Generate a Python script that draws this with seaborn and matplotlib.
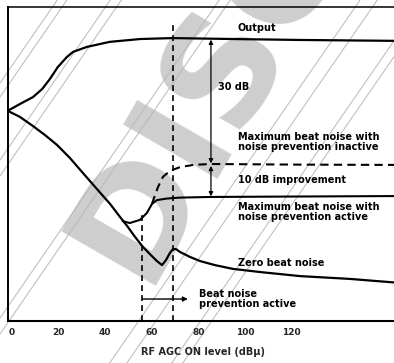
import matplotlib
matplotlib.use("Agg")
import matplotlib.pyplot as plt
from matplotlib.lines import Line2D
import pandas as pd
import seaborn as sns

sns.set_theme(style="white")
plt.rcParams["font.family"] = ["DejaVu Sans"]

# RF AGC ON level (dBu) vs. relative level (arbitrary units, schematic)
output_x = [-1.7, 3.4, 9.0, 13.0, 16.3, 19.7, 23.6, 26.2, 32.2, 42.0, 55.0, 69.0, 95.0, 124.0, 167.0]
output_y = [67.0, 69.1, 71.3, 73.9, 77.1, 80.9, 84.1, 85.7, 87.3, 88.9, 89.8, 90.1, 89.8, 89.5, 89.2]

zero_x = [-1.7, 3.4, 9.0, 14.2, 19.3, 24.9, 30.5, 36.5, 42.1, 46.4, 49.4, 52.8, 56.2, 59.2,
          62.2, 64.4, 66.1, 67.8, 69.1, 70.4, 72.1, 76.4, 80.7, 87.1, 94.8, 106.4, 123.6, 145.1, 167.0]
zero_y = [66.9, 65.0, 62.1, 59.2, 56.1, 51.9, 47.1, 42.0, 37.3, 33.1, 30.3, 26.8, 23.6, 21.3,
          19.1, 17.8, 19.4, 21.7, 22.9, 22.9, 22.0, 20.4, 19.1, 17.8, 16.6, 15.6, 14.3, 13.4, 12.1]

active_x = [47.5, 50.6, 54.9, 57.9, 60.1, 62.2, 66.5, 72.1, 85.0, 110.0, 167.0]
active_y = [31.8, 31.2, 32.2, 34.4, 37.3, 38.5, 39.0, 39.3, 39.5, 39.6, 39.8]

inactive_x = [60.1, 61.4, 62.7, 64.8, 67.8, 72.1, 77.7, 85.0, 123.6, 167.0]
inactive_y = [37.3, 40.1, 42.7, 45.9, 47.8, 49.0, 49.7, 50.0, 49.8, 49.7]

prevention_start = 56
prevention_end = 69
arrow_x = 85.4
x_ticks = [0, 20, 40, 60, 80, 100, 120]

W, H = 394, 363
fig = plt.figure(figsize=(W / 100, H / 100), dpi=100)
fig.patch.set_facecolor("white")

# faint diagonal "DISCONTINUED" stamp behind the chart
wm_grey = "#cecece"
fig.text(143 / W, 1 - 286 / H, "DISCO", fontsize=108, fontweight="bold",
         color=wm_grey, rotation=60, rotation_mode="anchor", ha="left", va="baseline",
         zorder=-2)
for c in [83, 97, 160, 176, 318, 334, 522, 547, 612, 628]:
    x0, y0 = 0, c
    x1, y1 = W, c - 1.45 * W
    fig.add_artist(Line2D([x0 / W, x1 / W], [1 - y0 / H, 1 - y1 / H],
                          transform=fig.transFigure, color="#b8b8b8", lw=0.7, zorder=-1))

ax = fig.add_axes([8 / W, 42 / H, 1.0, 314 / H])
ax.patch.set_alpha(0)
ax.set_xlim(-1.7, 167.4)
ax.set_ylim(0, 100)

line_kw = dict(color="black", estimator=None, sort=False, legend=False, ax=ax)
sns.lineplot(data=pd.DataFrame({"x": output_x, "y": output_y}), x="x", y="y", lw=1.6, **line_kw)
sns.lineplot(data=pd.DataFrame({"x": zero_x, "y": zero_y}), x="x", y="y", lw=1.6, **line_kw)
sns.lineplot(data=pd.DataFrame({"x": active_x, "y": active_y}), x="x", y="y", lw=1.5, **line_kw)
sns.lineplot(data=pd.DataFrame({"x": inactive_x, "y": inactive_y}), x="x", y="y", lw=1.5,
             linestyle=(0, (4, 2.5)), **line_kw)

# boundaries of the prevention-active range
ax.plot([prevention_start, prevention_start], [0, 34.4], color="black", lw=1.2,
        linestyle=(0, (3.5, 2.5)))
ax.plot([prevention_end, prevention_end], [0, 95.2], color="black", lw=1.2,
        linestyle=(0, (3.5, 2.5)))

arrow_kw = dict(arrowstyle="<|-|>", color="black", lw=0.9, mutation_scale=6,
                shrinkA=0, shrinkB=0)
ax.annotate("", xy=(arrow_x, 89.6), xytext=(arrow_x, 50.2), arrowprops=arrow_kw)
ax.annotate("", xy=(arrow_x, 49.4), xytext=(arrow_x, 39.7), arrowprops=arrow_kw)
ax.annotate("", xy=(75.5, 7.0), xytext=(prevention_start, 7.0),
            arrowprops=dict(arrowstyle="-|>", color="black", lw=1.0, mutation_scale=7,
                            shrinkA=0, shrinkB=0))

txt = dict(fontsize=7, fontweight="bold", ha="left", va="center", color="black")
ax.text(97, 93.4, "Output", **txt)
ax.text(88.4, 74.5, "30 dB", **txt)
ax.text(97, 57.0, "Maximum beat noise with\nnoise prevention inactive", linespacing=1.05, **txt)
ax.text(97, 44.9, "10 dB improvement", **txt)
ax.text(97, 34.7, "Maximum beat noise with\nnoise prevention active", linespacing=1.05, **txt)
ax.text(97, 18.6, "Zero beat noise", **txt)
ax.text(80.3, 7.0, "Beat noise\nprevention active", linespacing=1.05, **txt)

ax.set_xticks(x_ticks)
ax.set_xticklabels([str(t) for t in x_ticks], fontsize=6.5, fontweight="bold")
ax.set_yticks([])
ax.tick_params(axis="x", length=0, pad=5)
ax.set_xlabel("RF AGC ON level (dBμ)", fontsize=7, fontweight="bold")
ax.xaxis.set_label_coords((203 - 8) / 394, -0.083)
ax.set_ylabel("")

for side, lw in [("left", 1.4), ("top", 1.1), ("bottom", 1.5)]:
    ax.spines[side].set_color("black")
    ax.spines[side].set_linewidth(lw)
ax.spines["right"].set_visible(False)

fig.savefig("out.png", dpi=100, facecolor="white")
